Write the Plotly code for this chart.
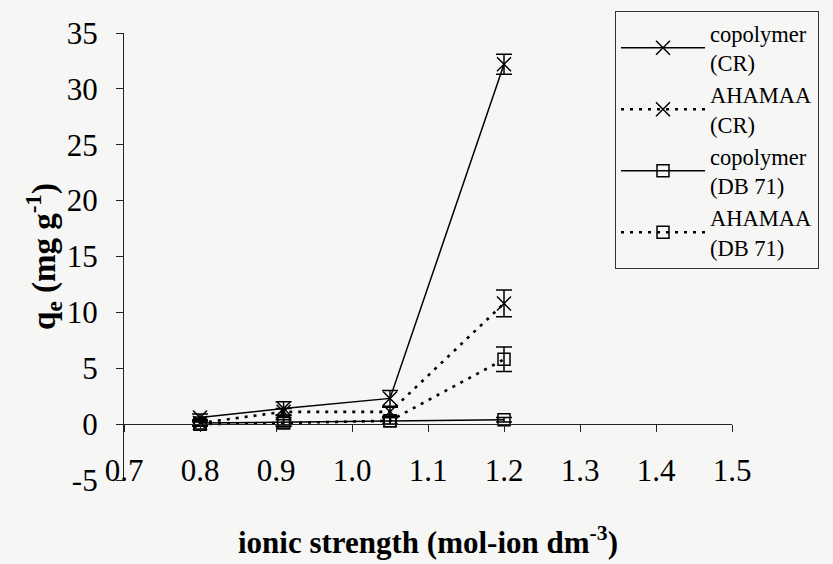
import plotly.graph_objects as go

# ionic strength (mol-ion dm^-3)
ionic_strength = [0.8, 0.91, 1.05, 1.2]

# equilibrium uptake q_e (mg g^-1) and standard deviations
copolymer_cr = [0.6, 1.4, 2.3, 32.2]
copolymer_cr_err = [0.3, 0.6, 0.7, 0.9]
ahamaa_cr = [0.1, 1.1, 1.1, 10.8]
ahamaa_cr_err = [0.2, 0.3, 0.4, 1.2]
copolymer_db71 = [0.1, 0.2, 0.3, 0.4]
copolymer_db71_err = [0.3, 0.4, 0.3, 0.2]
ahamaa_db71 = [0.0, 0.1, 0.3, 5.8]
ahamaa_db71_err = [0.2, 0.3, 0.3, 1.1]

x_ticks = [0.7, 0.8, 0.9, 1.0, 1.1, 1.2, 1.3, 1.4, 1.5]
x_tick_text = ["0.7", "0.8", "0.9", "1.0", "1.1", "1.2", "1.3", "1.4", "1.5"]
y_ticks = [-5, 0, 5, 10, 15, 20, 25, 30, 35]
y_tick_text = ["-5", "0", "5", "10", "15", "20", "25", "30", "35"]

Y_MIN, Y_MAX = -5, 35
SERIF = "'Liberation Serif', 'Times New Roman', Times, serif"
BG = "#f6f6f5"

series = [
    ("copolymer<br>(CR)", copolymer_cr, copolymer_cr_err, "solid", "x-thin-open"),
    ("AHAMAA<br>(CR)", ahamaa_cr, ahamaa_cr_err, "3px,6px", "x-thin-open"),
    ("copolymer<br>(DB 71)", copolymer_db71, copolymer_db71_err, "solid", "square-open"),
    ("AHAMAA<br>(DB 71)", ahamaa_db71, ahamaa_db71_err, "3px,6px", "square-open"),
]

fig = go.Figure()
for name, vals, errs, dash, symbol in series:
    dotted = dash != "solid"
    fig.add_trace(go.Scatter(
        x=ionic_strength, y=vals, name=name, mode="lines+markers",
        line=dict(color="black", width=2.6 if dotted else 1.5, dash=dash),
        marker=dict(symbol=symbol, size=14 if symbol.startswith("x") else 12,
                    color="black", line=dict(color="black", width=1.5)),
        error_y=dict(type="data", array=errs, visible=True,
                     color="black", thickness=1.5, width=8),
    ))

# the crossing axis at q_e = 0 carries the horizontal line and tick marks
zero_pos = (0 - Y_MIN) / (Y_MAX - Y_MIN)

fig.update_layout(
    width=833, height=564,
    margin=dict(l=124, r=101, t=33, b=84, autoexpand=False),
    paper_bgcolor=BG, plot_bgcolor=BG,
    font=dict(family=SERIF, color="black", size=30),
    showlegend=True,
    legend=dict(
        x=(615 - 124) / (732 - 124), y=(480 - 11) / 447,
        xanchor="left", yanchor="top",
        bgcolor=BG, bordercolor="#333", borderwidth=1,
        font=dict(family=SERIF, size=22.5, color="black"),
        itemwidth=84, tracegroupgap=0,
    ),
    xaxis=dict(
        range=[0.7, 1.5], tickvals=x_ticks, ticktext=x_tick_text,
        showline=False, showgrid=False, zeroline=False, ticks="",
        anchor="free", position=0.07,
        tickfont=dict(family=SERIF, size=31),
        title=dict(text="<b>ionic strength (mol-ion dm<sup>-3</sup>)</b>",
                   font=dict(family=SERIF, size=31), standoff=44),
    ),
    xaxis2=dict(
        overlaying="x", matches="x", range=[0.7, 1.5], tickvals=x_ticks,
        showticklabels=False, showline=True, linecolor="#222", linewidth=1.3,
        ticks="outside", ticklen=7, tickcolor="#222", tickwidth=1.3,
        showgrid=False, zeroline=False, anchor="free", position=zero_pos,
    ),
    yaxis=dict(
        range=[Y_MIN, Y_MAX], tickvals=y_ticks, ticktext=y_tick_text,
        showline=True, linecolor="#222", linewidth=1.3,
        ticks="outside", ticklen=7, tickcolor="#222", tickwidth=1.3,
        ticklabelstandoff=12,
        showgrid=False, zeroline=False,
        tickfont=dict(family=SERIF, size=31),
        title=dict(text="<b>q<sub>e</sub> (mg g<sup>-1</sup>)</b>",
                   font=dict(family=SERIF, size=33), standoff=0),
    ),
)

# placeholder trace so the crossing axis is rendered
fig.add_trace(go.Scatter(x=[0.7, 1.5], y=[None, None], xaxis="x2",
                         showlegend=False, hoverinfo="skip"))

fig.write_html("out.html")
